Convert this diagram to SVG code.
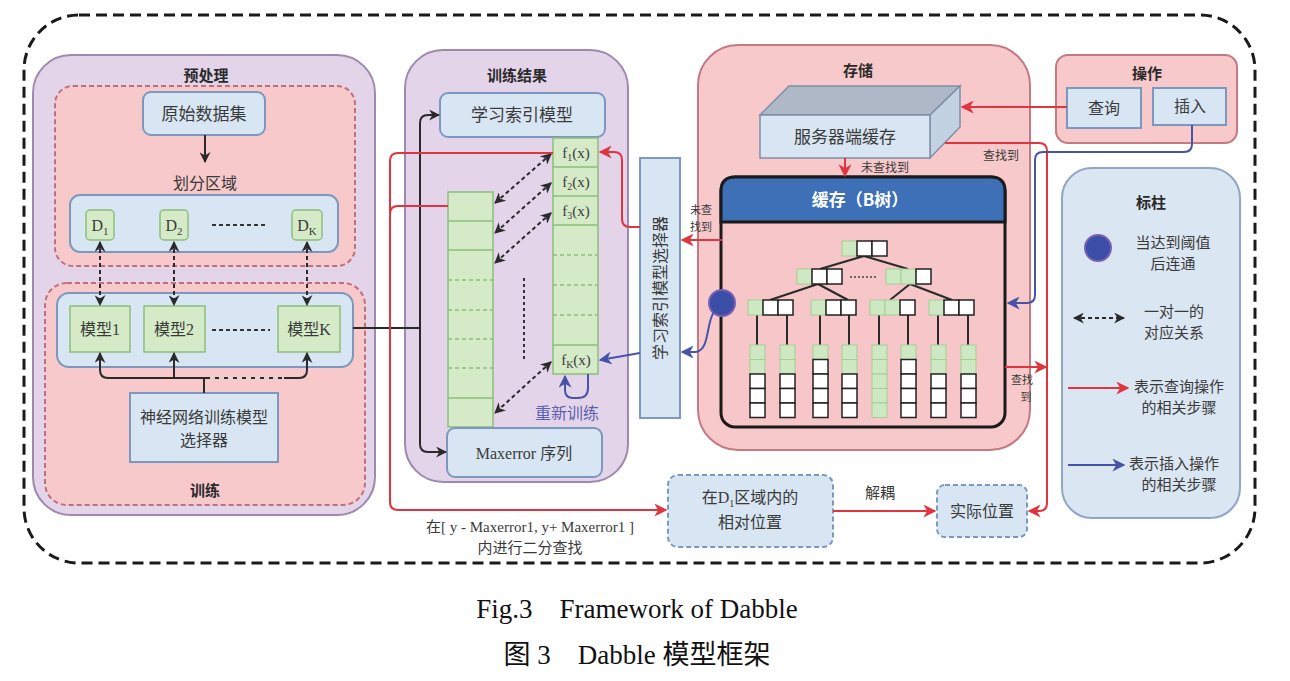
<svg xmlns="http://www.w3.org/2000/svg" width="1290" height="681" viewBox="0 0 1290 681">
<defs>
<style>
.t{font-family:'Noto Sans CJK SC','Noto Sans',sans-serif;fill:#3a3a3a;text-anchor:middle}
.tb{font-family:'Noto Sans CJK SC','Noto Sans',sans-serif;fill:#2a2a2a;text-anchor:middle;font-weight:bold}
.s{font-family:'Liberation Serif','Noto Sans CJK SC',serif;fill:#3a3a3a;text-anchor:middle}
.panel{fill:#e4d4ea;stroke:#9d8aae;stroke-width:2}
.pink{fill:#f7c9cb;stroke:#c47a82;stroke-width:2}
.pinkd{fill:#f7c9cb;stroke:#c0707a;stroke-width:2;stroke-dasharray:5 3}
.blue{fill:#d8e6f3;stroke:#7d98be;stroke-width:2}
.blued{fill:#d8e6f3;stroke:#7d98be;stroke-width:2;stroke-dasharray:5 3}
.green{fill:#d5ebc8;stroke:#8dbd7d;stroke-width:1.5}
.g{fill:#cfe8c4;stroke:#a3cf93;stroke-width:1}
.w{fill:#ffffff;stroke:#222;stroke-width:1.5}
.blk{fill:none;stroke:#2a2a2a;stroke-width:2}
.red{fill:none;stroke:#e0343e;stroke-width:2}
.bl{fill:none;stroke:#4653a8;stroke-width:2}
.dd{fill:none;stroke:#2a2a2a;stroke-width:2;stroke-dasharray:4 3}
.edge{stroke:#2a2a2a;stroke-width:2}
</style>
<marker id="ak" viewBox="0 0 10 10" refX="9" refY="5" markerWidth="11" markerHeight="11" markerUnits="userSpaceOnUse" orient="auto-start-reverse"><path d="M0,0 L10,5 L0,10 L3,5 z" fill="#2a2a2a"/></marker>
<marker id="ar" viewBox="0 0 10 10" refX="9" refY="5" markerWidth="13" markerHeight="13" markerUnits="userSpaceOnUse" orient="auto-start-reverse"><path d="M0,0 L10,5 L0,10 L3,5 z" fill="#e0343e"/></marker>
<marker id="ab" viewBox="0 0 10 10" refX="9" refY="5" markerWidth="13" markerHeight="13" markerUnits="userSpaceOnUse" orient="auto-start-reverse"><path d="M0,0 L10,5 L0,10 L3,5 z" fill="#4653a8"/></marker>
</defs>
<rect width="1290" height="681" fill="#ffffff"/>

<!-- outer dashed frame -->
<rect x="24" y="15" width="1231" height="548" rx="55" fill="none" stroke="#1a1a1a" stroke-width="3" stroke-dasharray="11 6"/>

<!-- left panel -->
<g id="preprocess-train">
<rect class="panel" x="33" y="55" width="342" height="460" rx="38"/>
<text class="tb" x="206" y="81" font-size="15">预处理</text>
<rect class="pinkd" x="55" y="86" width="300" height="180" rx="18"/>
<rect class="pinkd" x="45" y="283" width="320" height="222" rx="22"/>
<text class="tb" x="205" y="496" font-size="15">训练</text>
</g>
<g id="raw-data"><rect class="blue" x="143" y="92" width="122" height="43" rx="8"/><text class="t" x="204" y="120" font-size="17">原始数据集</text></g>
<g id="partition"><text class="t" x="205" y="189" font-size="16">划分区域</text>
<rect class="blue" x="70" y="195" width="268" height="57" rx="10"/></g>
<g id="d1"><rect class="green" x="86" y="210" width="28" height="30" rx="4"/><text class="s" x="100" y="231" font-size="16">D<tspan font-size="11" dy="4">1</tspan></text></g>
<g id="d2"><rect class="green" x="160" y="210" width="28" height="30" rx="4"/><text class="s" x="174" y="231" font-size="16">D<tspan font-size="11" dy="4">2</tspan></text></g>
<g id="dk"><rect class="green" x="292" y="210" width="30" height="30" rx="4"/><text class="s" x="307" y="231" font-size="16">D<tspan font-size="11" dy="4">K</tspan></text></g>
<line x1="212" y1="225" x2="268" y2="225" stroke="#333" stroke-width="2" stroke-dasharray="4 3"/>
<g id="models-box"><rect class="blue" x="57" y="293" width="296" height="74" rx="12"/></g>
<g id="model1"><rect class="green" x="70" y="306" width="60" height="46"/><text class="s" x="100" y="335" font-size="16">模型1</text></g>
<g id="model2"><rect class="green" x="144" y="306" width="61" height="46"/><text class="s" x="174" y="335" font-size="16">模型2</text></g>
<g id="modelk"><rect class="green" x="278" y="306" width="62" height="46"/><text class="s" x="309" y="335" font-size="16">模型K</text></g>
<line x1="212" y1="330" x2="270" y2="330" stroke="#333" stroke-width="2" stroke-dasharray="4 3"/>
<g id="nn-selector"><rect class="blue" x="130" y="393" width="148" height="69"/><text class="t" x="204" y="423" font-size="16">神经网络训练模型</text><text class="t" x="204" y="446" font-size="16">选择器</text></g>

<!-- middle panel -->
<g id="train-result">
<rect class="panel" x="405" y="50" width="223" height="432" rx="38"/>
<text class="tb" x="517" y="81" font-size="15">训练结果</text>
</g>
<g id="learned-index"><rect class="blue" x="440" y="93" width="165" height="44" rx="8"/><text class="t" x="522" y="121" font-size="17">学习索引模型</text></g>
<g id="f-column">
<rect class="green" x="553" y="138" width="45" height="236"/>
<line x1="553" y1="167" x2="598" y2="167" stroke="#8dbd7d" stroke-width="1.5"/>
<line x1="553" y1="196" x2="598" y2="196" stroke="#8dbd7d" stroke-width="1.5"/>
<line x1="553" y1="225" x2="598" y2="225" stroke="#8dbd7d" stroke-width="1.5"/>
<line x1="553" y1="255" x2="598" y2="255" stroke="#8dbd7d" stroke-width="1.5" stroke-dasharray="4 3"/>
<line x1="553" y1="285" x2="598" y2="285" stroke="#8dbd7d" stroke-width="1.5" stroke-dasharray="4 3"/>
<line x1="553" y1="315" x2="598" y2="315" stroke="#8dbd7d" stroke-width="1.5" stroke-dasharray="4 3"/>
<line x1="553" y1="345" x2="598" y2="345" stroke="#8dbd7d" stroke-width="1.5"/>
<text class="s" x="576" y="158" font-size="15">f<tspan font-size="10" dy="3">1</tspan><tspan dy="-3">(x)</tspan></text>
<text class="s" x="576" y="187" font-size="15">f<tspan font-size="10" dy="3">2</tspan><tspan dy="-3">(x)</tspan></text>
<text class="s" x="576" y="216" font-size="15">f<tspan font-size="10" dy="3">3</tspan><tspan dy="-3">(x)</tspan></text>
<text class="s" x="576" y="365" font-size="15">f<tspan font-size="10" dy="3">K</tspan><tspan dy="-3">(x)</tspan></text>
</g>
<g id="maxerror-column">
<rect class="green" x="448" y="192" width="45" height="235"/>
<line x1="448" y1="221" x2="493" y2="221" stroke="#8dbd7d" stroke-width="1.5"/>
<line x1="448" y1="250" x2="493" y2="250" stroke="#8dbd7d" stroke-width="1.5"/>
<line x1="448" y1="280" x2="493" y2="280" stroke="#8dbd7d" stroke-width="1.5" stroke-dasharray="4 3"/>
<line x1="448" y1="310" x2="493" y2="310" stroke="#8dbd7d" stroke-width="1.5" stroke-dasharray="4 3"/>
<line x1="448" y1="339" x2="493" y2="339" stroke="#8dbd7d" stroke-width="1.5" stroke-dasharray="4 3"/>
<line x1="448" y1="368" x2="493" y2="368" stroke="#8dbd7d" stroke-width="1.5" stroke-dasharray="4 3"/>
<line x1="448" y1="398" x2="493" y2="398" stroke="#8dbd7d" stroke-width="1.5"/>
</g>
<line x1="524" y1="278" x2="524" y2="361" stroke="#333" stroke-width="2" stroke-dasharray="3 3"/>
<g id="maxerror"><rect class="blue" x="447" y="428" width="155" height="49" rx="8"/><text class="s" x="524" y="459" font-size="16">Maxerror 序列</text></g>
<text class="t" x="567" y="419" font-size="16" style="fill:#5a5fb0">重新训练</text>

<g id="index-selector"><rect class="blue" x="640" y="158" width="40" height="260"/><text class="t" x="0" y="0" font-size="16" transform="translate(666 288) rotate(-90)">学习索引模型选择器</text></g>

<!-- storage -->
<g id="storage">
<rect class="pink" x="698" y="45" width="332" height="405" rx="40"/>
<text class="tb" x="858" y="76" font-size="15">存储</text>
</g>
<g id="server-cache">
<polygon points="760,115 789,86 960,86 930,115" fill="#aeb8c6" stroke="#7d8ea8" stroke-width="1.5"/>
<polygon points="930,115 960,86 960,127 930,158" fill="#c3d2e2" stroke="#7d8ea8" stroke-width="1.5"/>
<rect x="760" y="115" width="170" height="43" fill="#d8e6f3" stroke="#7d8ea8" stroke-width="1.5"/>
<text class="t" x="845" y="143" font-size="17">服务器端缓存</text>
</g>
<g id="btree">
<rect x="721" y="177" width="284" height="250" rx="14" fill="#f6c6c8" stroke="#1a1a1a" stroke-width="3"/>
<path d="M721,222 V191 Q721,177 735,177 H991 Q1005,177 1005,191 V222 Z" fill="#3d70b6" stroke="#1a1a1a" stroke-width="3"/>
<text class="tb" x="860" y="206" font-size="17" style="fill:#ffffff">缓存（B树）</text>
<line class="edge" x1="864" y1="256" x2="820" y2="269"/>
<line class="edge" x1="864" y1="256" x2="908" y2="269"/>
<line class="edge" x1="818" y1="284" x2="770" y2="300"/>
<line class="edge" x1="818" y1="284" x2="848" y2="300"/>
<line class="edge" x1="910" y1="284" x2="890" y2="300"/>
<line class="edge" x1="910" y1="284" x2="952" y2="300"/>
<line class="edge" x1="757" y1="315" x2="757" y2="345"/>
<line class="edge" x1="787" y1="315" x2="787" y2="345"/>
<line class="edge" x1="820" y1="315" x2="820" y2="345"/>
<line class="edge" x1="849" y1="315" x2="849" y2="345"/>
<line class="edge" x1="879" y1="315" x2="879" y2="345"/>
<line class="edge" x1="908" y1="315" x2="908" y2="345"/>
<line class="edge" x1="938" y1="315" x2="938" y2="345"/>
<line class="edge" x1="968" y1="315" x2="968" y2="345"/>
<rect class="g" x="842" y="241" width="15" height="15"/><rect class="w" x="857" y="241" width="15" height="15"/><rect class="w" x="872" y="241" width="15" height="15"/>
<rect class="g" x="797" y="269" width="15" height="15"/><rect class="w" x="812" y="269" width="15" height="15"/><rect class="w" x="827" y="269" width="15" height="15"/>
<rect class="g" x="886" y="269" width="15" height="15"/><rect class="g" x="901" y="269" width="15" height="15"/><rect class="w" x="916" y="269" width="15" height="15"/>
<line x1="850" y1="277" x2="878" y2="277" stroke="#444" stroke-width="1.5" stroke-dasharray="2 2"/>
<rect class="g" x="748" y="300" width="15" height="15"/><rect class="w" x="763" y="300" width="15" height="15"/><rect class="w" x="778" y="300" width="15" height="15"/>
<rect class="g" x="811" y="300" width="15" height="15"/><rect class="w" x="826" y="300" width="15" height="15"/><rect class="w" x="841" y="300" width="15" height="15"/>
<rect class="g" x="870" y="300" width="15" height="15"/><rect class="g" x="885" y="300" width="15" height="15"/><rect class="w" x="900" y="300" width="15" height="15"/>
<rect class="g" x="929" y="300" width="15" height="15"/><rect class="w" x="944" y="300" width="15" height="15"/><rect class="w" x="959" y="300" width="15" height="15"/>
<g>
<rect class="g" x="750" y="345" width="15" height="14.5"/><rect class="g" x="750" y="359.5" width="15" height="14.5"/><rect class="w" x="750" y="374" width="15" height="14.5"/><rect class="w" x="750" y="388.5" width="15" height="14.5"/><rect class="w" x="750" y="403" width="15" height="14.5"/>
<rect class="g" x="780" y="345" width="15" height="14.5"/><rect class="g" x="780" y="359.5" width="15" height="14.5"/><rect class="w" x="780" y="374" width="15" height="14.5"/><rect class="w" x="780" y="388.5" width="15" height="14.5"/><rect class="w" x="780" y="403" width="15" height="14.5"/>
<rect class="g" x="813" y="345" width="15" height="14.5"/><rect class="w" x="813" y="359.5" width="15" height="14.5"/><rect class="w" x="813" y="374" width="15" height="14.5"/><rect class="w" x="813" y="388.5" width="15" height="14.5"/><rect class="w" x="813" y="403" width="15" height="14.5"/>
<rect class="g" x="842" y="345" width="15" height="14.5"/><rect class="g" x="842" y="359.5" width="15" height="14.5"/><rect class="w" x="842" y="374" width="15" height="14.5"/><rect class="w" x="842" y="388.5" width="15" height="14.5"/><rect class="w" x="842" y="403" width="15" height="14.5"/>
<rect class="g" x="872" y="345" width="15" height="14.5"/><rect class="g" x="872" y="359.5" width="15" height="14.5"/><rect class="g" x="872" y="374" width="15" height="14.5"/><rect class="g" x="872" y="388.5" width="15" height="14.5"/><rect class="g" x="872" y="403" width="15" height="14.5"/>
<rect class="g" x="901" y="345" width="15" height="14.5"/><rect class="w" x="901" y="359.5" width="15" height="14.5"/><rect class="w" x="901" y="374" width="15" height="14.5"/><rect class="w" x="901" y="388.5" width="15" height="14.5"/><rect class="w" x="901" y="403" width="15" height="14.5"/>
<rect class="g" x="931" y="345" width="15" height="14.5"/><rect class="g" x="931" y="359.5" width="15" height="14.5"/><rect class="w" x="931" y="374" width="15" height="14.5"/><rect class="w" x="931" y="388.5" width="15" height="14.5"/><rect class="w" x="931" y="403" width="15" height="14.5"/>
<rect class="g" x="961" y="345" width="15" height="14.5"/><rect class="g" x="961" y="359.5" width="15" height="14.5"/><rect class="w" x="961" y="374" width="15" height="14.5"/><rect class="w" x="961" y="388.5" width="15" height="14.5"/><rect class="w" x="961" y="403" width="15" height="14.5"/>
</g>
</g>
<g id="threshold-dot"><circle cx="722" cy="303" r="13" fill="#3a4ea8" stroke="#7a5fae" stroke-width="2"/></g>

<!-- operation -->
<g id="operation">
<rect class="pink" x="1056" y="55" width="181" height="88" rx="12"/>
<text class="tb" x="1147" y="79" font-size="15">操作</text>
</g>
<g id="query"><rect class="blue" x="1067" y="88" width="74" height="40"/><text class="t" x="1104" y="114" font-size="16">查询</text></g>
<g id="insert"><rect class="blue" x="1153" y="88" width="73" height="37"/><text class="t" x="1190" y="112" font-size="16">插入</text></g>

<!-- legend -->
<g id="legend">
<rect x="1062" y="168" width="178" height="350" rx="30" fill="#dae6f2" stroke="#8fa6c4" stroke-width="2"/>
<text class="tb" x="1151" y="208" font-size="15">标柱</text>
<circle cx="1098" cy="248" r="13" fill="#3a4ea8" stroke="#7a5fae" stroke-width="2"/>
<text class="t" x="1173" y="248" font-size="15">当达到阈值</text>
<text class="t" x="1173" y="269" font-size="15">后连通</text>
<line class="dd" x1="1074" y1="318" x2="1124" y2="318" marker-start="url(#ak)" marker-end="url(#ak)"/>
<text class="t" x="1174" y="317" font-size="15">一对一的</text>
<text class="t" x="1174" y="338" font-size="15">对应关系</text>
<line class="red" x1="1068" y1="388" x2="1128" y2="388" marker-end="url(#ar)"/>
<text class="t" x="1179" y="392" font-size="15">表示查询操作</text>
<text class="t" x="1179" y="413" font-size="15">的相关步骤</text>
<line class="bl" x1="1068" y1="465" x2="1124" y2="465" marker-end="url(#ab)"/>
<text class="t" x="1174" y="469" font-size="15">表示插入操作</text>
<text class="t" x="1179" y="490" font-size="15">的相关步骤</text>
</g>

<!-- bottom boxes -->
<g id="relative-pos"><rect class="blued" x="668" y="475" width="165" height="72" rx="10"/><text class="s" x="750" y="503" font-size="16">在D<tspan font-size="10" dy="4">1</tspan><tspan dy="-4">区域内的</tspan></text><text class="t" x="750" y="528" font-size="16">相对位置</text></g>
<g id="actual-pos"><rect class="blued" x="937" y="485" width="90" height="52" rx="8"/><text class="t" x="982" y="517" font-size="16">实际位置</text></g>

<!-- connectors -->
<g id="connectors">
<line class="blk" x1="205" y1="135" x2="205" y2="162" marker-end="url(#ak)"/>
<line class="dd" x1="100" y1="242" x2="100" y2="305" marker-start="url(#ak)" marker-end="url(#ak)"/>
<line class="dd" x1="174" y1="242" x2="174" y2="305" marker-start="url(#ak)" marker-end="url(#ak)"/>
<line class="dd" x1="307" y1="242" x2="307" y2="305" marker-start="url(#ak)" marker-end="url(#ak)"/>
<path class="blk" d="M204,393 V378"/>
<path class="blk" d="M204,378 H108 Q100,378 100,370 V353" marker-end="url(#ak)"/>
<path class="blk" d="M174,378 V353" marker-end="url(#ak)"/>
<path class="blk" d="M204,378 H290"/>
<path class="blk" d="M286,378 H299 Q307,378 307,370 V353" marker-end="url(#ak)"/>
<line x1="210" y1="378" x2="284" y2="378" stroke="#e0d4d6" stroke-width="2" stroke-dasharray="5 4"/>
<path class="blk" d="M353,328 H420"/>
<path class="blk" d="M420,330 V123 Q420,115 428,115 H439" marker-end="url(#ak)"/>
<path class="blk" d="M420,330 V444 Q420,452 428,452 H446" marker-end="url(#ak)"/>
<line class="dd" x1="551" y1="154" x2="495" y2="203" marker-start="url(#ak)" marker-end="url(#ak)"/>
<line class="dd" x1="551" y1="183" x2="495" y2="233" marker-start="url(#ak)" marker-end="url(#ak)"/>
<line class="dd" x1="551" y1="213" x2="495" y2="263" marker-start="url(#ak)" marker-end="url(#ak)"/>
<line class="dd" x1="551" y1="362" x2="495" y2="413" marker-start="url(#ak)" marker-end="url(#ak)"/>
<path class="bl" d="M588,374 V388 Q588,398 578,398 H573 Q565,398 565,390 V376" marker-end="url(#ab)"/>
<path class="red" d="M553,153 H398 Q390,153 390,161 V502 Q390,510 398,510 H666" marker-end="url(#ar)"/>
<path class="red" d="M448,206 H398 Q390,206 390,214"/>
<path class="red" d="M640,227 H630 Q622,227 622,219 V160 Q622,152 614,152 H600" marker-end="url(#ar)"/>
<path class="red" d="M722,240 H682" marker-end="url(#ar)"/>
<text class="t" x="701" y="214" font-size="11">未查</text>
<text class="t" x="701" y="231" font-size="11">找到</text>
<path class="bl" d="M714,312 C706,322 710,350 696,352 H682" marker-end="url(#ab)"/>
<path class="bl" d="M640,353 L600,360" marker-end="url(#ab)"/>
<path class="red" d="M1067,107 H962" marker-end="url(#ar)"/>
<path class="red" d="M945,143 H1039 Q1047,143 1047,151 V503 Q1047,511 1039,511 H1029" marker-end="url(#ar)"/>
<text class="t" x="1001" y="160" font-size="12">查找到</text>
<path class="red" d="M845,158 V176" marker-end="url(#ar)"/>
<text class="t" x="885" y="172" font-size="12">未查找到</text>
<path class="red" d="M1005,367 H1046" marker-end="url(#ar)"/>
<text class="t" x="1022" y="384" font-size="11">查找</text>
<text class="t" x="1026" y="401" font-size="11">到</text>
<path class="bl" d="M1192,125 V144 Q1192,152 1184,152 H1043 Q1035,152 1035,160 V295 Q1035,303 1027,303 H1008" marker-end="url(#ab)"/>
<path class="red" d="M833,511 H935" marker-end="url(#ar)"/>
<text class="t" x="880" y="498" font-size="15">解耦</text>
<text class="s" x="530" y="532" font-size="15">在[ y - Maxerror1, y+ Maxerror1 ]</text>
<text class="t" x="530" y="553" font-size="15">内进行二分查找</text>
</g>

<!-- caption -->
<text class="s" x="637" y="618" font-size="27" style="fill:#111" xml:space="preserve">Fig.3    Framework of Dabble</text>
<text class="s" x="637" y="664" font-size="27" style="fill:#111" xml:space="preserve">图 3    Dabble 模型框架</text>
</svg>
